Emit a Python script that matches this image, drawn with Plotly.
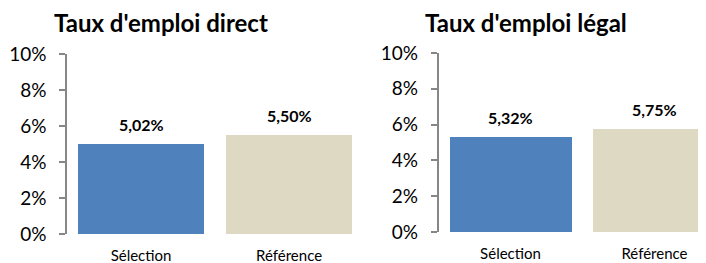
import plotly.graph_objects as go

categories = ["Sélection", "Référence"]
direct_values = [5.02, 5.50]
legal_values = [5.32, 5.75]
direct_labels = ["5,02%", "5,50%"]
legal_labels = ["5,32%", "5,75%"]
titles = ["Taux d'emploi direct", "Taux d'emploi légal"]
tick_vals = [0, 2, 4, 6, 8, 10]
tick_text = ["0%", "2%", "4%", "6%", "8%", "10%"]
colors = ["#4F81BD", "#DDD9C3"]

W, H = 706, 263
OFF = 8  # the page body adds an 8px margin around the figure
FONT = "Lato"
AXIS_COLOR = "#868686"


def px(v):
    return (v - OFF) / W


def py(v):
    return 1 - (v - OFF) / H


fig = go.Figure()
fig.add_trace(go.Bar(x=[0, 1], y=direct_values, marker_color=colors, width=0.851,
                     xaxis="x", yaxis="y", showlegend=False, hoverinfo="skip"))
fig.add_trace(go.Bar(x=[0, 1], y=legal_values, marker_color=colors, width=0.854,
                     xaxis="x2", yaxis="y2", showlegend=False, hoverinfo="skip"))

label_font = dict(family=FONT, size=16, color="black", weight="bold")
annotations = []
for i in range(2):
    annotations.append(dict(x=i, y=direct_values[i], xref="x", yref="y", text=direct_labels[i],
                            showarrow=False, yanchor="bottom", yshift=8, font=label_font))
    annotations.append(dict(x=i, y=legal_values[i], xref="x2", yref="y2", text=legal_labels[i],
                            showarrow=False, yanchor="bottom", yshift=8, font=label_font))

title_font = dict(family=FONT, size=24, color="black", weight="bold")
annotations.append(dict(x=px(161), y=py(22.5), xref="paper", yref="paper", text=titles[0],
                        showarrow=False, xanchor="center", yanchor="middle", borderpad=0,
                        font=title_font))
annotations.append(dict(x=px(525.5), y=py(22.5), xref="paper", yref="paper", text=titles[1],
                        showarrow=False, xanchor="center", yanchor="middle", borderpad=0,
                        font=title_font))

yaxis_common = dict(range=[0, 10], tickvals=tick_vals, ticktext=tick_text, showgrid=False,
                    zeroline=False, showline=True, linecolor=AXIS_COLOR, linewidth=1.5,
                    ticks="outside", ticklen=6, tickcolor=AXIS_COLOR, tickwidth=1.5,
                    ticklabelstandoff=9, automargin=False,
                    tickfont=dict(family=FONT, size=19, color="black"))
xaxis_common = dict(tickvals=[0, 1], ticktext=categories, showgrid=False, zeroline=False,
                    showline=False, ticks="", ticklabelstandoff=11, automargin=False,
                    tickfont=dict(family=FONT, size=15, color="black"))

fig.update_layout(
    template="none",
    width=W, height=H,
    margin=dict(l=0, r=0, t=0, b=0, pad=0),
    paper_bgcolor="white", plot_bgcolor="rgba(0,0,0,0)",
    xaxis=dict(domain=[px(67), px(353)], range=[-0.5, 1.432], anchor="y", **xaxis_common),
    yaxis=dict(domain=[py(234), py(54)], anchor="x", **yaxis_common),
    xaxis2=dict(domain=[px(438.5), px(706)], range=[-0.5, 1.358], anchor="y2", **xaxis_common),
    yaxis2=dict(domain=[py(232), py(53)], anchor="x2", **yaxis_common),
    annotations=annotations,
    bargap=0,
)

fig.write_html("out.html")
